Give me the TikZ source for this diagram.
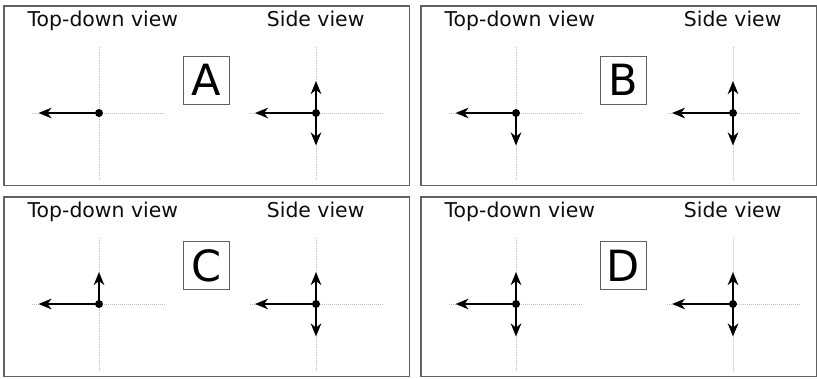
\documentclass[tikz,border=0pt]{standalone}
\usepackage{fontspec}
\setmainfont{DejaVu Sans}
\usetikzlibrary{arrows.meta}
\tikzset{
  frame/.style={draw=black!62, line width=1.4pt},
  guide/.style={draw=black!25, line width=0.7pt, dash pattern=on 1pt off 1pt},
  vec/.style={draw=black, line width=2.6pt, -{Stealth[length=13pt,width=10.5pt,inset=4pt]}},
  dotmark/.style={circle, fill=black, inner sep=0pt, minimum size=8pt},
  title/.style={anchor=base west, inner sep=0pt, text=black!95, font=\fontsize{20.4}{24}\selectfont},
  letterbox/.style={draw=black!62, line width=1.1pt, minimum width=46pt, minimum height=48pt, inner sep=0pt, font=\fontsize{43}{50}\selectfont}
}
% #1 name, #2 xoff, #3 yoff, #4 letter, #5 box centre y, #6 top-down up arrow, #7 top-down down arrow, #8 frame right
\newcommand\drawpanel[8]{%
  \begin{scope}[shift={(#2,#3)}]
    \draw[frame] (4,6) rectangle (#8,185.5);
    \node[title] (#1t1) at (27.5,26.5) {Top-down view};
    \node[title] (#1t2) at (266.7,26.5) {Side view};
    \node[letterbox] (#1box) at (206.3,#5) {#4};
    % top-down view
    \draw[guide] (99,47) -- (99,180);
    \draw[guide] (32,113) -- (165,113);
    \coordinate (#1c) at (99,113);
    \coordinate (#1cl) at (38.5,113);
    \coordinate (#1cu) at (99,81);
    \coordinate (#1cd) at (99,145.5);
    \draw[vec] (#1c) -- (#1cl);
    \ifnum#6=1 \draw[vec] (#1c) -- (#1cu);\fi
    \ifnum#7=1 \draw[vec] (#1c) -- (#1cd);\fi
    \node[dotmark] (#1cdot) at (#1c) {};
    % side view
    \draw[guide] (316,47) -- (316,180);
    \draw[guide] (250,113) -- (383,113);
    \coordinate (#1s) at (316,113);
    \coordinate (#1sl) at (255,113);
    \coordinate (#1su) at (316,81);
    \coordinate (#1sd) at (316,145.5);
    \draw[vec] (#1s) -- (#1sl);
    \draw[vec] (#1s) -- (#1su);
    \draw[vec] (#1s) -- (#1sd);
    \node[dotmark] (#1sdot) at (#1s) {};
  \end{scope}}
\begin{document}
\begin{tikzpicture}[x=1pt,y=-1pt]
  \useasboundingbox (0,0) rectangle (817,379);
  \drawpanel{A}{0}{0}{A}{80.2}{0}{0}{409.3}
  \drawpanel{B}{417}{0}{B}{80.2}{0}{1}{399.3}
  \drawpanel{C}{0}{191}{C}{74.5}{1}{0}{409.3}
  \drawpanel{D}{417}{191}{D}{74.5}{1}{1}{399.3}
\end{tikzpicture}
\end{document}
